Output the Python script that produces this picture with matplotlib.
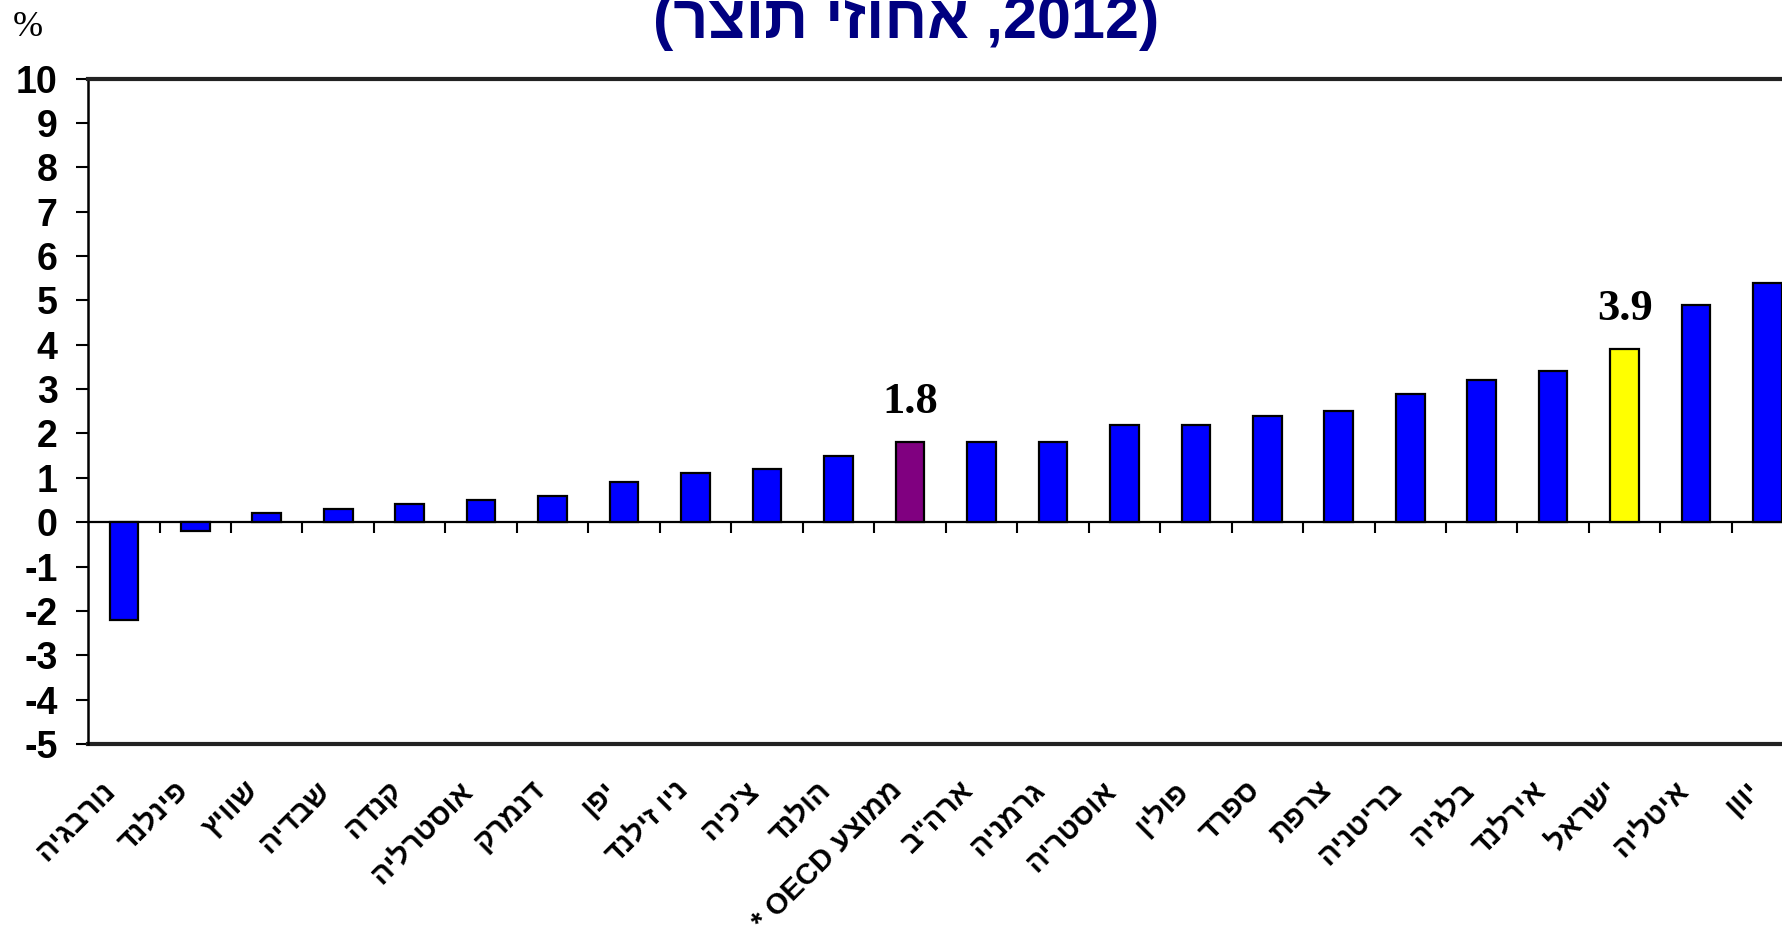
import re
import matplotlib
matplotlib.use("Agg")
import matplotlib.pyplot as plt
from matplotlib.transforms import blended_transform_factory

# נתונים (אחוזי תוצר, 2012)
countries = ["נורבגיה", "פינלנד", "שוויץ", "שבדיה", "קנדה", "אוסטרליה",
             "דנמרק", "יפן", "ניו זילנד", "צ'כיה", "הולנד", "ממוצע OECD *",
             'ארה"ב', "גרמניה", "אוסטריה", "פולין", "ספרד", "צרפת",
             "בריטניה", "בלגיה", "אירלנד", "ישראל", "איטליה", "יוון"]
values = [-2.2, -0.2, 0.2, 0.3, 0.4, 0.5, 0.6, 0.9, 1.1, 1.2, 1.5, 1.8,
          1.8, 1.8, 2.2, 2.2, 2.4, 2.5, 2.9, 3.2, 3.4, 3.9, 4.9, 5.4]
highlight = {"ממוצע OECD *": "#800080", "ישראל": "#FFFF00"}
labelled = ["ממוצע OECD *", "ישראל"]
yticks = list(range(-5, 11))


def rtl(s):
    # matplotlib has no bidi support: flip the string, keep latin/digit runs
    r = s[::-1]
    return re.sub(r"[A-Za-z0-9]+", lambda m: m.group(0)[::-1], r)


fam = ["Liberation Sans", "DejaVu Sans"]
plt.rcParams["font.family"] = fam

fig = plt.figure(figsize=(17.83, 9.25), dpi=100)
ax = fig.add_axes([0.0494, 0.1957, 0.962, 0.7194])

x = list(range(len(countries)))
cols = [highlight.get(c, "#0000FF") for c in countries]
ax.bar(x, values, width=0.4, color=cols, edgecolor="black", linewidth=1.6, zorder=3)

ax.set_xlim(-0.5, len(countries) - 0.5)
ax.set_ylim(-5, 10)
ax.set_yticks(yticks)
ax.set_yticklabels([str(t) for t in yticks], fontsize=27, fontweight="bold")
ax.tick_params(axis="y", direction="out", length=9, width=1.5, pad=13)

# category axis at zero, with ticks between the bars
ax.spines["bottom"].set_position(("data", 0))
ax.spines["bottom"].set_linewidth(1.6)
ax.set_xticks([i + 0.5 for i in x])
ax.set_xticklabels([])
ax.tick_params(axis="x", direction="out", length=8, width=1.5)
ax.spines["left"].set_linewidth(1.8)
ax.spines["top"].set_linewidth(3)
ax.spines["top"].set_color("#222222")
ax.spines["right"].set_visible(False)
ax.axhline(-5, color="#222222", linewidth=3, clip_on=False)

# category labels below the plot area
tr = blended_transform_factory(ax.transData, ax.transAxes)
for i, c in enumerate(countries):
    ax.annotate(rtl(c), xy=(i, 0), xycoords=tr, xytext=(-22, -32),
                textcoords="offset pixels", rotation=45, rotation_mode="anchor",
                ha="right", va="top", fontsize=21, fontweight="bold",
                annotation_clip=False)

# value labels
for c in labelled:
    i = countries.index(c)
    ax.annotate(f"{values[i]:.1f}", xy=(i, values[i]), xytext=(0, 20),
                textcoords="offset pixels", ha="center", va="bottom",
                fontsize=32, fontweight="bold", family="Liberation Serif")

fig.text(0.007, 1 - 28 / 925, "%", fontsize=26, family="Liberation Serif",
         va="center", ha="left")
fig.text(0.508, 1 - 38 / 925, "(" + rtl("אחוזי תוצר") + " ,2012)",
         fontsize=44, fontweight="bold", color="#000080", ha="center",
         va="baseline")

fig.savefig("out.png", dpi=100)
